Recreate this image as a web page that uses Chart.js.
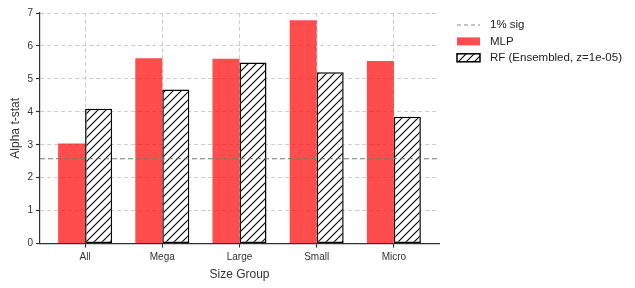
<!DOCTYPE html>
<html>
<head>
<meta charset="utf-8">
<script src="https://cdn.jsdelivr.net/npm/chart.js@4/dist/chart.umd.min.js"></script>
<style>
body{margin:0;background:#fff;}
</style>
</head>
<body>
<canvas id="c" width="635" height="288"></canvas>
<script>
var groups = ['All','Mega','Large','Small','Micro'];
var mlp = [3.04, 5.63, 5.61, 6.78, 5.54];
var rf = [4.09, 4.68, 5.50, 5.20, 3.85];
var sigLevel = 2.576;
var yTicks = [0,1,2,3,4,5,6,7];

function hatch(){
	var c=document.createElement('canvas');
	c.width=8;c.height=8;
	var g=c.getContext('2d');
	g.fillStyle='#fff';
	g.fillRect(0,0,8,8);
	g.strokeStyle='#000';
	g.lineWidth=1.1;
	g.beginPath();
	g.moveTo(0,8);g.lineTo(8,0);
	g.moveTo(-2,2);g.lineTo(2,-2);
	g.moveTo(6,10);g.lineTo(10,6);
	g.stroke();
	return g.createPattern(c,'repeat');
}

var xmin=-0.585, xmax=groups.length-1+0.585;
var font='"Liberation Sans", Arial, sans-serif';
Chart.defaults.font.family=font;
Chart.defaults.color='#333';

//legend drawn by hand, matplotlib style (line sample for the dashed one)
var sideLegend = {
	id:'sideLegend',
	afterDraw:function(chart){
		var ctx=chart.ctx, ds=chart.data.datasets;
		var x=457, y=25, w=23, h=8;
		ctx.save();
		ctx.font='11.5px '+font;
		ctx.textBaseline='middle';
		for(var i=0;i<ds.length;i++){
			var d=ds[i];
			if(d.type=='line'){
				ctx.strokeStyle='#888';
				ctx.lineWidth=1.2;
				ctx.setLineDash([4,3]);
				ctx.beginPath();ctx.moveTo(x,y);ctx.lineTo(x+w,y);ctx.stroke();
				ctx.setLineDash([]);
			}else{
				ctx.fillStyle=d.backgroundColor;
				ctx.fillRect(x,y-h/2,w,h);
				if(d.borderWidth){
					ctx.strokeStyle=d.borderColor;
					ctx.lineWidth=1.5;
					ctx.strokeRect(x,y-h/2,w,h);
				}
			}
			ctx.fillStyle='#222';
			ctx.fillText(d.label,x+w+10,y);
			y+=16.4;
		}
		ctx.restore();
	}
};

var datas = {
	datasets : [{
		type:'line',
		label:'1% sig',
		data:[{x:xmin,y:sigLevel},{x:xmax,y:sigLevel}],
		borderColor:'#777',
		borderWidth:1.2,
		borderDash:[5,3],
		pointRadius:0,
		order:-1
	},{
		label:'MLP',
		data:groups.map(function(g,i){return {x:i,y:mlp[i]};}),
		backgroundColor:'rgba(255,0,0,0.7)',
		borderWidth:0
	},{
		label:'RF (Ensembled, z=1e-05)',
		data:groups.map(function(g,i){return {x:i,y:rf[i]};}),
		backgroundColor:hatch(),
		borderColor:'#000',
		borderWidth:1.5,
		borderSkipped:false
	}]
};

new Chart(document.getElementById('c').getContext('2d'),{type:'bar',data:datas,plugins:[sideLegend],options:{
	responsive:false,
	animation:false,
	layout:{padding:{left:4,right:196,top:13,bottom:2}},
	datasets:{bar:{categoryPercentage:0.7,barPercentage:1.0}},
	plugins:{
		tooltip:{enabled:false},
		legend:{display:false}
	},
	scales:{
		x:{
			type:'linear',
			offset:false,
			min:xmin,max:xmax,
			afterBuildTicks:function(ax){ax.ticks=groups.map(function(g,i){return {value:i};});},
			ticks:{callback:function(v){return groups[v];},font:{size:10},color:'#333',padding:4},
			grid:{offset:false,color:'#ccc',tickLength:4,tickColor:'#333',tickWidth:1.2},
			border:{color:'#333',width:1.2,dash:[4,3]},
			title:{display:true,text:'Size Group',font:{size:12},color:'#333',padding:{top:0}}
		},
		y:{
			min:0,max:7,
			afterBuildTicks:function(ax){ax.ticks=yTicks.map(function(v){return {value:v};});},
			ticks:{font:{size:10},color:'#333',padding:3},
			grid:{color:'#ccc',tickLength:4,tickColor:'#333',tickWidth:1.2},
			border:{color:'#333',width:1.2,dash:[4,3]},
			title:{display:true,text:'Alpha t-stat',font:{size:12},color:'#333',padding:{bottom:2}}
		}
	}
}});
</script>
</body>
</html>
